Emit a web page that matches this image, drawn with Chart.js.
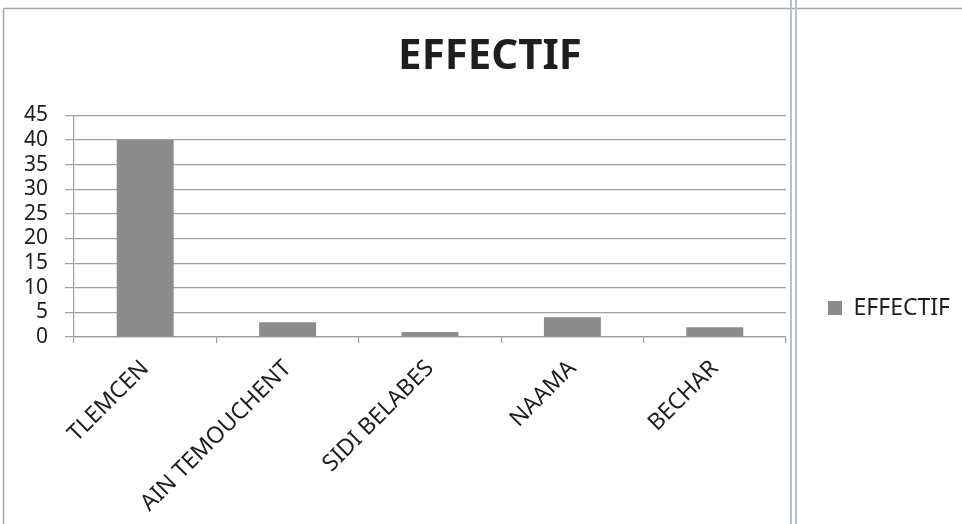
<!DOCTYPE html>
<html>
<head>
<meta charset="utf-8">
<script src="https://cdn.jsdelivr.net/npm/chart.js@4.4.1/dist/chart.umd.min.js"></script>
<style>
  html, body { margin: 0; padding: 0; background: #ffffff; overflow: hidden; }
  #wrap { position: relative; width: 962px; height: 524px; }
</style>
</head>
<body>
<div id="wrap"><canvas id="c" width="962" height="524"></canvas></div>
<script>
// Data
const categories = ['TLEMCEN', 'AIN TEMOUCHENT', 'SIDI BELABES', 'NAAMA', 'BECHAR'];
const effectif = [40, 3, 1, 4, 2];
const seriesName = 'EFFECTIF';
const chartTitle = 'EFFECTIF';
const yTickValues = [0, 5, 10, 15, 20, 25, 30, 35, 40, 45];

// Styling / layout constants
const FONT = '"Noto Sans", "DejaVu Sans", sans-serif';
const TEXT = '#1e1e1e';
const GRID = '#a0a0a0';
const BAR = '#8c8c8c';
const PLOT_LEFT = 74, PLOT_RIGHT = 786, PLOT_BOTTOM = 337;
const LEGEND_PAD = 42, LEGEND_BOX = 14, LEGEND_FONT = 23, LEGEND_CY = 308;
const TITLE_CX = 490;

// Size the legend so the plot ends at PLOT_RIGHT
const mctx = document.createElement('canvas').getContext('2d');
mctx.font = LEGEND_FONT + 'px ' + FONT;
const legendTextW = mctx.measureText(seriesName).width;
const legendW = LEGEND_PAD + LEGEND_BOX + LEGEND_FONT / 2 + legendTextW + 10;
const padRight = Math.max(0, 962 - PLOT_RIGHT - legendW);

// Page frame lines around the chart
const frame = {
  id: 'frame',
  beforeDraw(chart) {
    const c = chart.ctx;
    c.save();
    c.fillStyle = '#ffffff';
    c.fillRect(0, 0, chart.width, chart.height);
    c.strokeStyle = '#a4a8b0';
    c.lineWidth = 1.5;
    c.beginPath();
    c.moveTo(3.5, 8.5); c.lineTo(962, 8.5);
    c.moveTo(3.5, 8.5); c.lineTo(3.5, 524);
    c.stroke();
    c.strokeStyle = '#b9bfcc';
    c.lineWidth = 2;
    c.beginPath();
    c.moveTo(791, 0); c.lineTo(791, 524);
    c.moveTo(796, 0); c.lineTo(796, 524);
    c.stroke();
    c.restore();
  }
};

// Placement of the title and the legend entry
const boxPlace = {
  id: 'boxPlace',
  afterLayout(chart) {
    const lg = chart.legend;
    if (lg) {
      const dy = LEGEND_CY - (lg.top + lg.bottom) / 2;
      lg.top += dy;
      lg.bottom += dy;
    }
    const tb = chart.titleBlock;
    if (tb) {
      const dx = TITLE_CX - (tb.left + tb.right) / 2;
      tb.left += dx;
      tb.right += dx;
    }
  }
};

new Chart(document.getElementById('c'), {
  type: 'bar',
  data: {
    labels: categories,
    datasets: [{
      label: seriesName,
      data: effectif,
      backgroundColor: BAR,
      borderWidth: 0,
      categoryPercentage: 1.0,
      barPercentage: 0.4
    }]
  },
  options: {
    responsive: false,
    animation: false,
    layout: { padding: { top: 10, left: 0, right: padRight, bottom: 0 } },
    plugins: {
      title: {
        display: true,
        text: chartTitle,
        color: TEXT,
        font: { family: FONT, size: 42, weight: 'bold', lineHeight: 1.2 },
        padding: { top: 22, bottom: 33 }
      },
      legend: {
        position: 'right',
        align: 'center',
        fullSize: false,
        labels: {
          boxWidth: LEGEND_BOX,
          boxHeight: LEGEND_BOX,
          padding: LEGEND_PAD,
          color: TEXT,
          font: { family: FONT, size: LEGEND_FONT }
        }
      },
      tooltip: { enabled: false }
    },
    scales: {
      x: {
        offset: true,
        grid: { offset: true, drawOnChartArea: false, drawTicks: true, tickLength: 6, color: GRID, lineWidth: 1.2 },
        border: { display: true, color: GRID, width: 1.2 },
        ticks: {
          autoSkip: false, minRotation: 45, maxRotation: 45, padding: 12,
          color: TEXT, font: { family: FONT, size: 23 }
        },
        afterFit(scale) { scale.height = 524 - PLOT_BOTTOM; }
      },
      y: {
        min: 0, max: 45,
        afterBuildTicks(scale) { scale.ticks = yTickValues.map(v => ({ value: v })); },
        grid: { color: GRID, lineWidth: 1.2, drawTicks: true, tickLength: 9 },
        border: { display: true, color: GRID, width: 1.2 },
        ticks: { autoSkip: false, padding: 17, color: TEXT, font: { family: FONT, size: 21 } },
        afterFit(scale) { scale.width = PLOT_LEFT; }
      }
    }
  },
  plugins: [frame, boxPlace]
});
</script>
</body>
</html>
